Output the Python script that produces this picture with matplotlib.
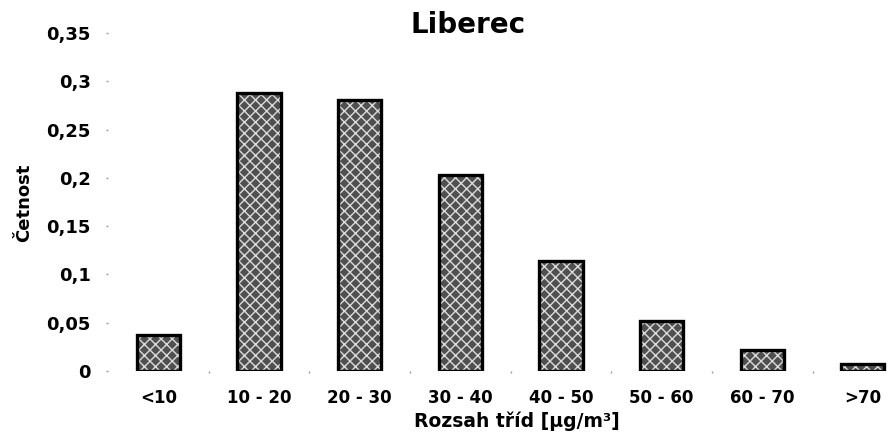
import matplotlib.pyplot as plt
import numpy as np

# data
categories = ["<10", "10 - 20", "20 - 30", "30 - 40", "40 - 50", "50 - 60", "60 - 70", ">70"]
cetnost = [0.037, 0.2875, 0.281, 0.203, 0.114, 0.052, 0.0217, 0.007]
yticks = [0, 0.05, 0.1, 0.15, 0.2, 0.25, 0.3, 0.35]
ytick_labels = ["0", "0,05", "0,1", "0,15", "0,2", "0,25", "0,3", "0,35"]

plt.rcParams['font.family'] = ['DejaVu Sans']
plt.rcParams['font.weight'] = 'bold'

W, H = 890, 432
fig = plt.figure(figsize=(W / 100, H / 100), dpi=100)
ax = fig.add_axes([108 / W, 1 - 371 / H, 1 - 108 / W, (371 - 33) / H])

x = np.arange(len(categories))
# speckled fill, then thick black outline
ax.bar(x, cetnost, width=0.43, color="#505050", edgecolor="#dcdcdc",
       hatch="xxx", linewidth=0, zorder=2)
ax.bar(x, cetnost, width=0.43, fill=False, edgecolor="black", linewidth=2.4, zorder=3)

ax.set_xlim(-0.5, 7.27)
ax.set_ylim(0, 0.35)
ax.set_xticks(x)
ax.set_xticklabels(categories, fontsize=12, fontweight="bold")
ax.set_xticks(x[:-1] + 0.5, minor=True)
ax.set_yticks(yticks)
ax.set_yticklabels(ytick_labels, fontsize=13, fontweight="bold")

for s in ax.spines.values():
    s.set_visible(False)
ax.tick_params(axis="x", which="major", length=0, pad=13)
ax.tick_params(axis="x", which="minor", length=1.5, width=1, color="#999999")
ax.tick_params(axis="y", length=1.5, width=1, color="#999999", pad=11)

fig.text(468 / W, 1 - 25 / H, "Liberec", fontsize=20, fontweight="bold",
         ha="center", va="center")
fig.text(517 / W, 1 - 427 / H, "Rozsah tříd [µg/m³]", fontsize=13.5, fontweight="bold",
         ha="center", va="baseline")
fig.text(24 / W, 1 - 203 / H, "Četnost", fontsize=13, fontweight="bold",
         rotation=90, ha="center", va="center")

fig.savefig("out.png", dpi=100)
